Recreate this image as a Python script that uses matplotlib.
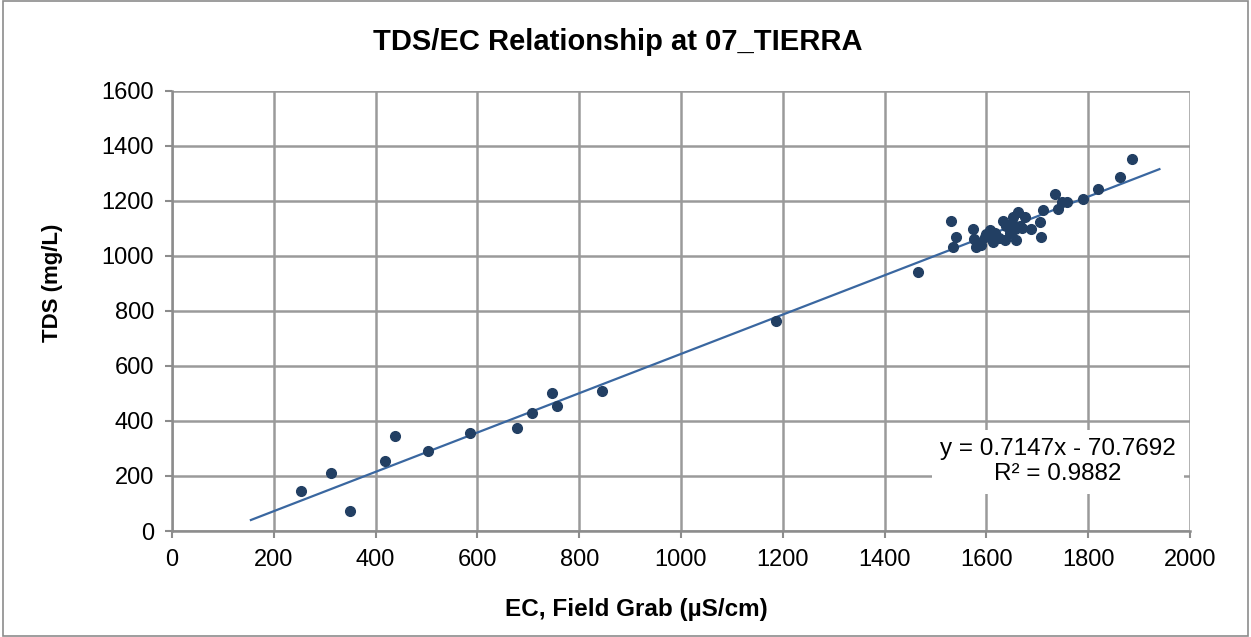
import numpy as np
import matplotlib.pyplot as plt
from matplotlib.patches import Rectangle

plt.rcParams['font.family'] = ['Liberation Sans', 'DejaVu Sans']

# ========== DATOS ==========
ec = [253, 312, 350, 419, 439, 502, 585, 678, 708, 747, 757, 845, 1187,
      1466, 1530, 1540, 1535, 1574, 1576, 1580, 1587, 1597, 1607, 1610,
      1617, 1614, 1632, 1638, 1636, 1646, 1653, 1656, 1658, 1663, 1666,
      1676, 1687, 1705, 1707, 1711, 1735, 1741, 1748, 1758, 1789, 1820,
      1862, 1887, 1600, 1625, 1650, 1670, 1590]
tds = [146, 210, 74, 256, 345, 292, 355, 376, 428, 501, 455, 510, 762,
       943, 1126, 1070, 1034, 1098, 1061, 1034, 1046, 1070, 1095, 1070,
       1083, 1052, 1126, 1109, 1058, 1083, 1143, 1097, 1058, 1161, 1109,
       1143, 1097, 1125, 1070, 1167, 1225, 1170, 1197, 1197, 1206, 1243,
       1288, 1351, 1080, 1065, 1120, 1100, 1040]

pendiente = 0.7147
intercepto = -70.7692
r2 = 0.9882
rango_tendencia = [155, 1940]

# ========== GRAFICA ==========
fig = plt.figure(figsize=(12.51, 6.37), dpi=100)
fig.patches.append(Rectangle((0.002, 0.002), 0.996, 0.996, transform=fig.transFigure,
                             fill=False, edgecolor='#8c8c8c', linewidth=1.2))

ax = fig.add_axes([0.1375, 0.1664, 0.8137, 0.6908])

xt = np.array(rango_tendencia)
ax.plot(xt, pendiente * xt + intercepto, color='#3a67a0', linewidth=1.6, zorder=3)
ax.plot(ec, tds, 'o', color='#223f63', markersize=7, zorder=4)

ax.set_xlim(0, 2000)
ax.set_ylim(0, 1600)
ax.set_xticks(np.arange(0, 2001, 200))
ax.set_yticks(np.arange(0, 1601, 200))
ax.grid(True, color='#9a9a9a', linewidth=1.8)
ax.set_axisbelow(True)
for s in ['top', 'right']:
    ax.spines[s].set_visible(False)
for s in ['left', 'bottom']:
    ax.spines[s].set_color('#8c8c8c')
    ax.spines[s].set_linewidth(1.8)
ax.tick_params(labelsize=17, length=5, width=1.5, color='#8c8c8c', pad=8)
for lab in ax.get_xticklabels() + ax.get_yticklabels():
    lab.set_clip_on(False)

ax.text(1741, 252, f'y = {pendiente}x - {abs(intercepto)}\nR² = {r2}',
        ha='center', va='center', fontsize=17.5, linespacing=1.2,
        bbox=dict(facecolor='white', edgecolor='none', pad=6), zorder=5)

fig.text(0.494, 0.934, 'TDS/EC Relationship at 07_TIERRA', ha='center', va='center',
         fontsize=21, fontweight='bold')
fig.text(0.509, 0.043, 'EC, Field Grab (µS/cm)', ha='center', va='center',
         fontsize=17.5, fontweight='bold')
fig.text(0.042, 0.556, 'TDS (mg/L)', ha='center', va='center', rotation=90,
         fontsize=16, fontweight='bold')

plt.savefig('out.png', dpi=100)
